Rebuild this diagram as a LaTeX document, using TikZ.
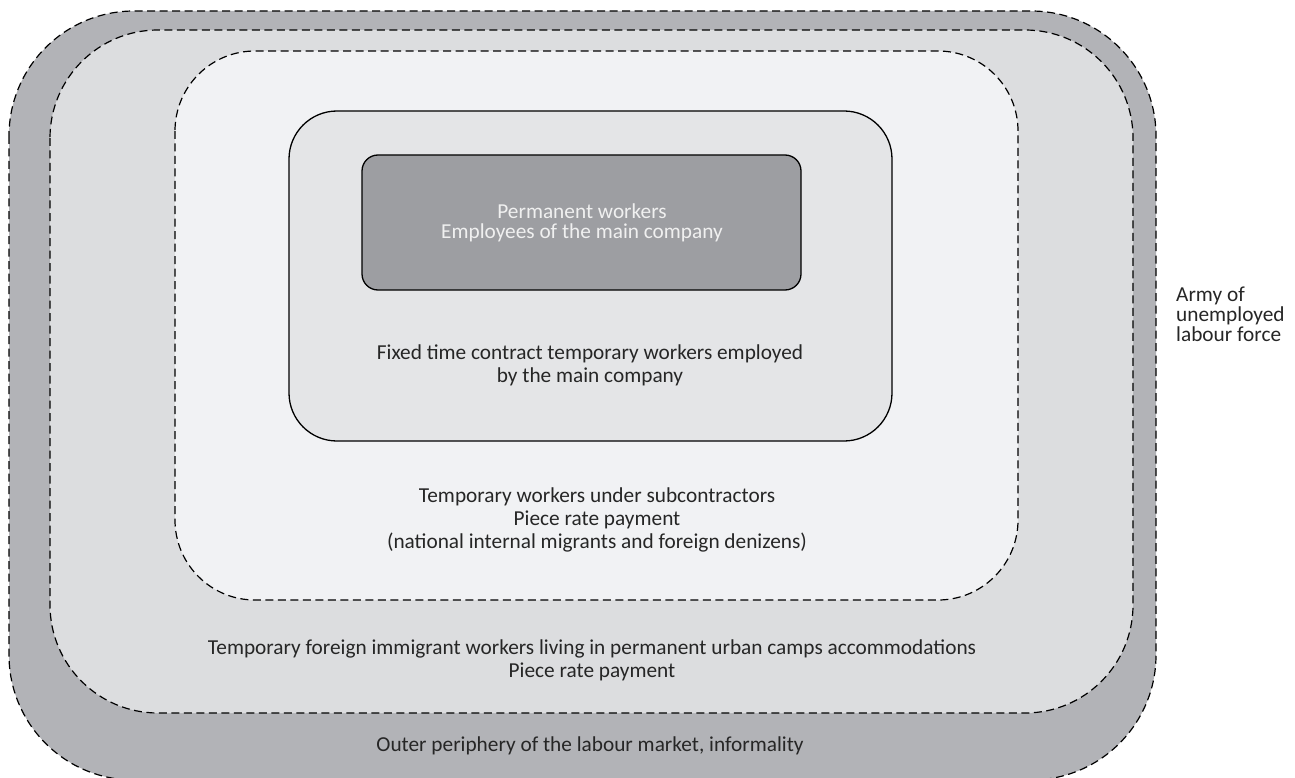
\documentclass[tikz,border=0pt]{standalone}
\usepackage{fontspec}
\setmainfont{Carlito}
\definecolor{ringA}{HTML}{B2B3B7}
\definecolor{ringB}{HTML}{DCDDDF}
\definecolor{ringC}{HTML}{F1F2F4}
\definecolor{fixedfill}{HTML}{E4E5E7}
\definecolor{permfill}{HTML}{9D9EA2}
\definecolor{inktext}{HTML}{262626}
\tikzset{
  ring/.style={draw=black, line width=1.2pt, dash pattern=on 8pt off 4.5pt},
  solidbox/.style={draw=black, line width=1.3pt},
  label/.style={align=center, text=inktext, font=\fontsize{21.3}{23}\selectfont, inner sep=0pt},
}
\begin{document}
\begin{tikzpicture}[x=1pt, y=-1pt]
  \useasboundingbox (0,0) rectangle (1295,778);
  % nested layers of the labour market, outermost first
  \draw[ring, fill=ringA, rounded corners=125pt] (9,11) rectangle (1156,780);
  \draw[ring, fill=ringB, rounded corners=108pt] (50,30) rectangle (1133,713);
  \draw[ring, fill=ringC, rounded corners=80pt] (175,51) rectangle (1018,600);
  \draw[solidbox, fill=fixedfill, rounded corners=48pt] (289,111) rectangle (892,441);
  \draw[solidbox, fill=permfill, rounded corners=16pt] (362,155) rectangle (801,290);

  \node[label, text=white!94!black, font=\fontsize{21.3}{20}\selectfont] (perm) at (582,223)
    {Permanent workers\\Employees of the main company};
  \node[label] (fixed) at (590,365)
    {Fixed time contract temporary workers employed\\by the main company};
  \node[label] (sub) at (597,520)
    {Temporary workers under subcontractors\\Piece rate payment\\(national internal migrants and foreign denizens)};
  \node[label] (camps) at (592,660)
    {Temporary foreign immigrant workers living in permanent urban camps accommodations\\Piece rate payment};
  \node[label] (outer) at (590,746)
    {Outer periphery of the labour market, informality};
  \node[label, align=left, anchor=west, font=\fontsize{21.3}{20}\selectfont] (army) at (1176,314)
    {Army of\\unemployed\\labour force};
\end{tikzpicture}
\end{document}
